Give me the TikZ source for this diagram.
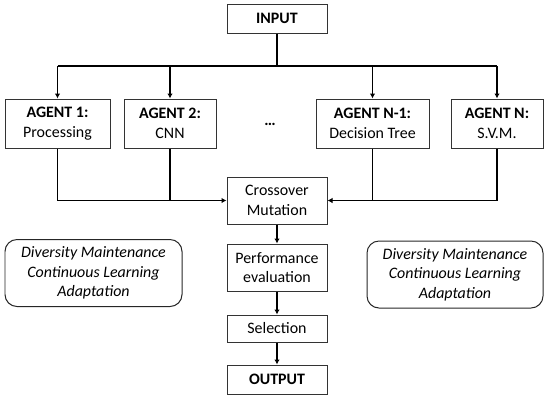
\documentclass[tikz,border=0pt]{standalone}
\usepackage{fontspec}
\setmainfont{Carlito}
\usepackage{tikz}
\usetikzlibrary{arrows.meta,positioning,calc}

\begin{document}
\begin{tikzpicture}[
  x=1bp, y=-1bp,
  font=\fontsize{16}{19.5}\selectfont,
  box/.style={draw=black!80, line width=1pt, fill=white,
              minimum width=100bp, inner sep=1pt, align=center},
  agent/.style={box, minimum height=49bp},
  note/.style={draw=black!85, line width=1pt, rounded corners=12bp,
               minimum height=67bp, align=center, font=\fontsize{16}{19.5}\selectfont\itshape},
  line/.style={line width=1.6pt, black},
  arr/.style={line, -{Latex[length=5bp,width=5.5bp]}}
]
\useasboundingbox (0,0) rectangle (550,401);

% --- input and the four agents ---
\node[box, minimum height=29bp] (input) at (277,18.5) {\textbf{INPUT}};

\node[agent, minimum width=105bp] (a1)  at (57.5,123.5)  {\textbf{AGENT 1:}\\Processing};
\node[agent, minimum width=92bp]  (a2)  at (170,123.5)   {\textbf{AGENT 2:}\\CNN};
\node (dots) at (270,124) {\textbf{\ldots}};
\node[agent, minimum width=113bp] (an1) at (372.5,123.5) {\textbf{AGENT N-1:}\\Decision Tree};
\node[agent, minimum width=92bp]  (an)  at (497,123.5)   {\textbf{AGENT N:}\\S.V.M.};

\coordinate (split) at (277,66);
\draw[line] (input.south) -- (split);
\draw[line] (split -| a1) -- (split -| an);
\foreach \a in {a1,a2,an1,an} { \draw[arr] (split -| \a) -- (\a.north); }

% --- genetic operators ---
\node[box, minimum height=47bp] (cross) at (277,200.5) {Crossover\\Mutation};
\node[box, minimum height=47bp] (perf)  at (277,267.5) {Performance\\evaluation};
\node[box, minimum height=27bp] (sel)   at (277,328.5) {Selection};
\node[box, minimum height=29bp] (output) at (277,379.5) {\textbf{OUTPUT}};

\draw[arr] (a1.south) |- (cross.west);
\draw[line] (a2.south) -- (a2.south |- cross.west);
\draw[arr] (an.south) |- (cross.east);
\draw[line] (an1.south) -- (an1.south |- cross.east);

\draw[arr] (cross) -- (perf);
\draw[arr] (perf) -- (sel);
\draw[arr] (sel) -- (output);

% --- side notes ---
\node[note, minimum width=177bp] (noteL) at (93.5,273)
  {Diversity Maintenance\\Continuous Learning\\Adaptation};
\node[note, minimum width=176bp] (noteR) at (455,274.5)
  {Diversity Maintenance\\Continuous Learning\\Adaptation};

\end{tikzpicture}
\end{document}
